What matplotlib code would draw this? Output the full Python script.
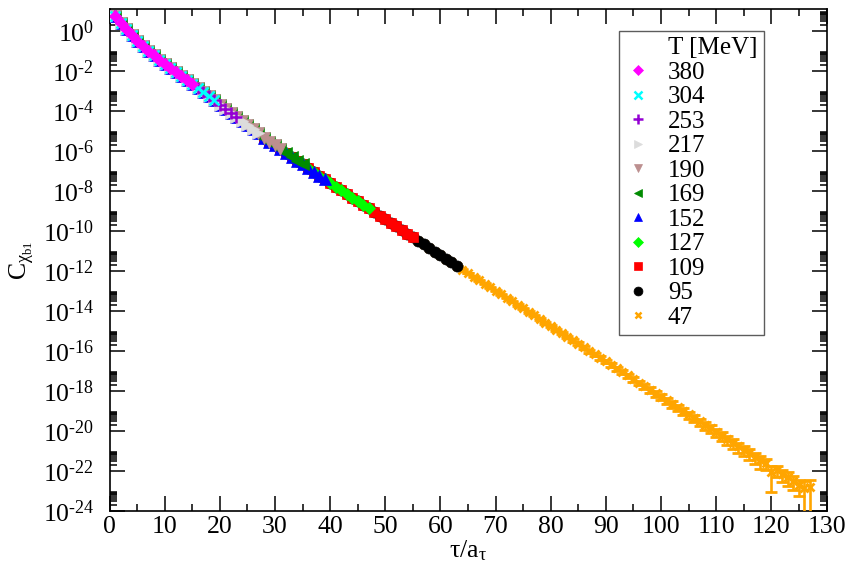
import numpy as np
import matplotlib
matplotlib.use("Agg")
import matplotlib.pyplot as plt
from matplotlib.ticker import FixedLocator, NullFormatter, FixedFormatter, MultipleLocator
from matplotlib.lines import Line2D

plt.rcParams['font.family'] = ['Liberation Serif', 'DejaVu Serif']
plt.rcParams['mathtext.fontset'] = 'custom'
plt.rcParams['mathtext.rm'] = 'Liberation Serif'
plt.rcParams['mathtext.it'] = 'Liberation Serif:italic'
plt.rcParams['mathtext.bf'] = 'Liberation Serif:bold'

# ---- data ----
temps = [380, 304, 253, 217, 190, 169, 152, 127, 109, 95, 47]
n_tau = [16, 20, 24, 28, 32, 36, 40, 48, 56, 64, 128]
colors = ['#FF00FF', '#00FFFF', '#9400D3', '#DCDCDC', '#BC8F8F', '#008B00',
          '#0000FF', '#00FF00', '#FF0000', '#000000', '#FFA500']
markers = ['D', 'x', '+', '>', 'v', '<', '^', 'D', 's', 'o', 'x']
msizes = [6.5, 6.5, 8.5, 8.0, 8.0, 8.0, 8.0, 6.5, 7.0, 8.0, 6.0]

# log10 of the correlator at tau/a_tau = 1 .. 127
log10_corr = [
    0.72, 0.38, 0.08, -0.22, -0.50, -0.76, -1.01, -1.24, -1.45, -1.66,
    -1.86, -2.06, -2.27, -2.47, -2.67, -2.88, -3.08, -3.29, -3.49, -3.70,
    -3.90, -4.11, -4.32, -4.52, -4.73, -4.93, -5.14, -5.35, -5.55, -5.74,
    -5.93, -6.12, -6.31, -6.50, -6.69, -6.88, -7.07, -7.25, -7.44, -7.62,
    -7.80, -7.99, -8.17, -8.35, -8.53, -8.71, -8.89, -9.07, -9.25, -9.43,
    -9.61, -9.79, -9.97, -10.15, -10.33, -10.51, -10.69, -10.87, -11.05, -11.23,
    -11.41, -11.59, -11.77, -11.95, -12.12, -12.30, -12.48, -12.65, -12.83, -13.01,
    -13.18, -13.36, -13.54, -13.71, -13.89, -14.07, -14.24, -14.42, -14.60, -14.77,
    -14.95, -15.12, -15.30, -15.48, -15.65, -15.83, -16.01, -16.18, -16.36, -16.54,
    -16.71, -16.89, -17.07, -17.24, -17.42, -17.60, -17.77, -17.95, -18.13, -18.30,
    -18.48, -18.66, -18.83, -19.01, -19.19, -19.36, -19.54, -19.72, -19.89, -20.07,
    -20.25, -20.42, -20.60, -20.78, -20.95, -21.13, -21.31, -21.48, -21.60, -22.05,
    -21.95, -22.15, -22.30, -22.50, -22.70, -22.85, -22.80,
]

# relative statistical errors of the 47 MeV correlator, tau = 1 .. 127
rel_err_47 = [
    0.02, 0.02, 0.02, 0.02, 0.02, 0.02, 0.02, 0.02, 0.02, 0.02,
    0.02, 0.02, 0.02, 0.02, 0.02, 0.02, 0.02, 0.02, 0.02, 0.02,
    0.02, 0.02, 0.02, 0.02, 0.02, 0.02, 0.02, 0.02, 0.02, 0.02,
    0.02, 0.02, 0.02, 0.02, 0.02, 0.02, 0.02, 0.02, 0.02, 0.02,
    0.02, 0.02, 0.02, 0.02, 0.02, 0.02, 0.02, 0.02, 0.02, 0.02,
    0.02, 0.02, 0.02, 0.02, 0.02, 0.02, 0.02, 0.02, 0.02, 0.02,
    0.03, 0.03, 0.03, 0.03, 0.03, 0.04, 0.04, 0.04, 0.05, 0.05,
    0.05, 0.06, 0.06, 0.07, 0.07, 0.08, 0.08, 0.09, 0.09, 0.10,
    0.11, 0.12, 0.13, 0.14, 0.15, 0.16, 0.17, 0.18, 0.19, 0.20,
    0.21, 0.22, 0.23, 0.24, 0.25, 0.27, 0.28, 0.29, 0.31, 0.32,
    0.33, 0.35, 0.36, 0.37, 0.38, 0.40, 0.41, 0.42, 0.43, 0.45,
    0.46, 0.48, 0.50, 0.52, 0.54, 0.56, 0.58, 0.62, 0.58, 0.90,
    0.58, 0.62, 0.64, 0.67, 0.72, 1.05, 1.10,
]

tick_vals = [1e0, 1e-2, 1e-4, 1e-6, 1e-8, 1e-10, 1e-12, 1e-14, 1e-16, 1e-18,
             1e-20, 1e-22, 1e-24]
tick_exps = ['0', '-2', '-4', '-6', '-8', '-10', '-12', '-14', '-16', '-18',
             '-20', '-22', '-24']

# ---- figure ----
fig = plt.figure(figsize=(8.49, 5.75), dpi=100)
ax = fig.add_axes([0.12898, 0.11183, 0.84452, 0.87200])

logc = np.array(log10_corr)
tau_all = np.arange(1, len(logc) + 1)
n_series = len(temps)
handles = []
for i in range(n_series):
    nt = n_tau[i]
    t = tau_all[:nt - 1]
    c = 10.0 ** logc[:nt - 1]
    z = 10 + (n_series - i)
    mew = 1.8 if markers[i] in ('x', '+') else 0.5
    if temps[i] == 47:
        err = c * np.array(rel_err_47[:nt - 1])
        ax.errorbar(t, c, yerr=err, fmt=markers[i], color=colors[i],
                    ms=msizes[i], mew=2.0, elinewidth=1.9, capsize=4.3,
                    capthick=1.9, zorder=z)
    else:
        ax.plot(t, c, ls='none', marker=markers[i], color=colors[i],
                mfc=colors[i], mec=colors[i], ms=msizes[i], mew=mew, zorder=z)
    hs = msizes[i] * (0.8 if temps[i] != 47 else 0.65)
    handles.append(Line2D([], [], ls='none', marker=markers[i], color=colors[i],
                          ms=hs, mew=mew))

ax.set_yscale('log')
ax.set_xlim(0, 130)
ax.set_ylim(1e-24, 10 ** 1.07)

ax.xaxis.set_major_locator(MultipleLocator(10))
ax.xaxis.set_minor_locator(MultipleLocator(5))

ax.yaxis.set_major_locator(FixedLocator(tick_vals))
ax.yaxis.set_major_formatter(FixedFormatter(
    [r'$\mathregular{10^{%s}}$' % s.replace('-', '\u2010') for s in tick_exps]))
minor = []
for m in range(-24, 1, 2):
    for k in range(2, 10):
        v = k * 10.0 ** m
        if v < 10 ** 1.07:
            minor.append(v)
ax.yaxis.set_minor_locator(FixedLocator(minor))
ax.yaxis.set_minor_formatter(NullFormatter())

ax.tick_params(which='both', direction='in', top=True, right=True, width=1.1)
ax.tick_params(which='major', length=11)
ax.tick_params(which='minor', length=5.3)
ax.tick_params(axis='x', which='major', labelsize=18.5, pad=4)
ax.tick_params(axis='y', which='major', labelsize=18.5, pad=11)
for s in ax.spines.values():
    s.set_linewidth(1.2)

ax.set_xlabel(r'$\mathregular{\tau/a_{\tau}}$', fontsize=18.5, labelpad=0)
ax.set_ylabel(r'$\mathregular{C_{\chi_{b1}}}$', fontsize=18.5, labelpad=4)

title_handle = Line2D([], [], ls='none', marker=None)
leg = ax.legend([title_handle] + handles,
                ['T [MeV]'] + [str(t) for t in temps],
                loc='upper left', bbox_to_anchor=(0.7106, 0.9573),
                frameon=True, fancybox=False, fontsize=18,
                labelspacing=0.08, handlelength=1.0, handletextpad=0.7,
                borderpad=0.25, borderaxespad=0.0, numpoints=1)
leg.get_frame().set_edgecolor('#333333')
leg.get_frame().set_linewidth(1.0)
leg.set_zorder(50)

fig.savefig('out.png', dpi=100)
